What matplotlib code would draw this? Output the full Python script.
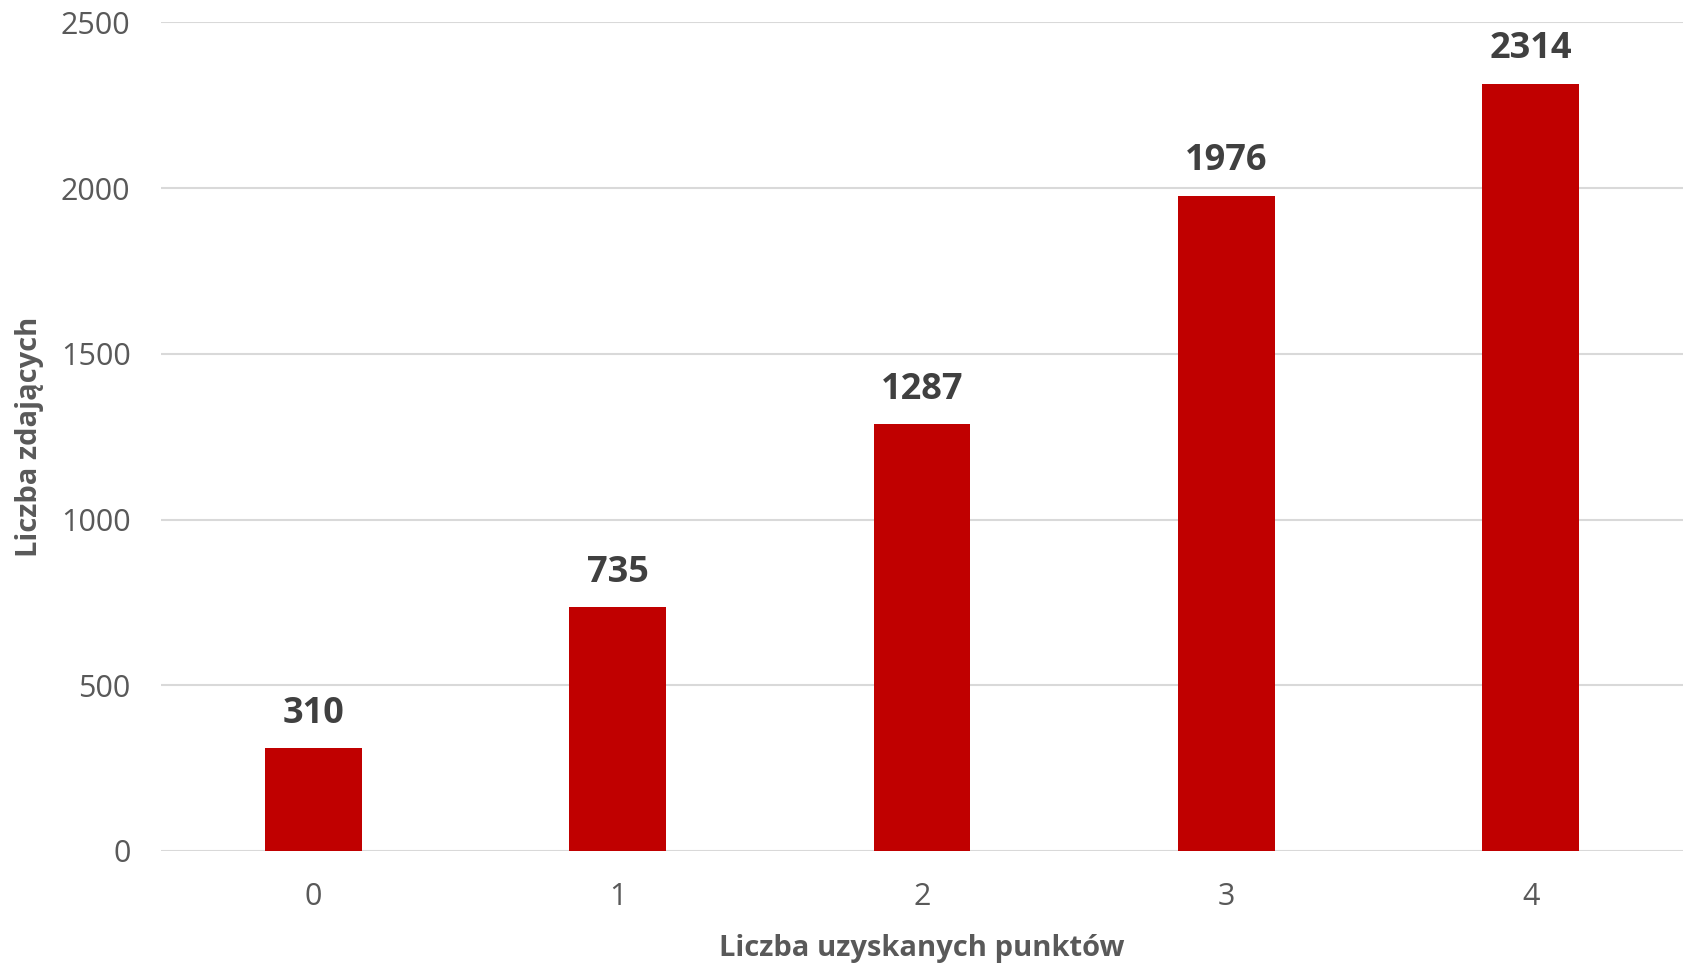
import matplotlib
matplotlib.use("Agg")
import matplotlib.pyplot as plt

# data
punkty = ["0", "1", "2", "3", "4"]
zdajacy = [310, 735, 1287, 1976, 2314]
y_ticks = [0, 500, 1000, 1500, 2000, 2500]

plt.rcParams['font.family'] = ['Open Sans', 'DejaVu Sans']

W, H = 1689, 964
fig = plt.figure(figsize=(W / 100, H / 100), dpi=100)
ax = fig.add_axes([161 / W, 1 - 851 / H, (1683 - 161) / W, (851 - 22.5) / H])

x = range(len(punkty))
bars = ax.bar(x, zdajacy, width=0.318, color='#c00000', zorder=3)

for b, v in zip(bars, zdajacy):
    ax.annotate(str(v), (b.get_x() + b.get_width() / 2, v),
                xytext=(0, 12), textcoords='offset points',
                ha='center', va='bottom', fontsize=26, fontweight='bold',
                color='#404040')

ax.set_xlim(-0.5, len(punkty) - 0.5)
ax.set_ylim(0, 2500)
ax.set_yticks(y_ticks)
ax.set_xticks(list(x))
ax.set_xticklabels(punkty)
ax.yaxis.grid(True, color='#d9d9d9', linewidth=1.5, zorder=0)
ax.tick_params(axis='both', length=0, labelsize=22, colors='#595959')
ax.tick_params(axis='y', pad=22)
ax.tick_params(axis='x', pad=22)
for s in ax.spines.values():
    s.set_visible(False)

ax.set_xlabel('Liczba uzyskanych punktów', fontsize=21, fontweight='bold',
              color='#595959', labelpad=16)
ax.set_ylabel('Liczba zdających', fontsize=21, fontweight='bold',
              color='#595959', labelpad=12)

fig.savefig('out.png', dpi=100)
